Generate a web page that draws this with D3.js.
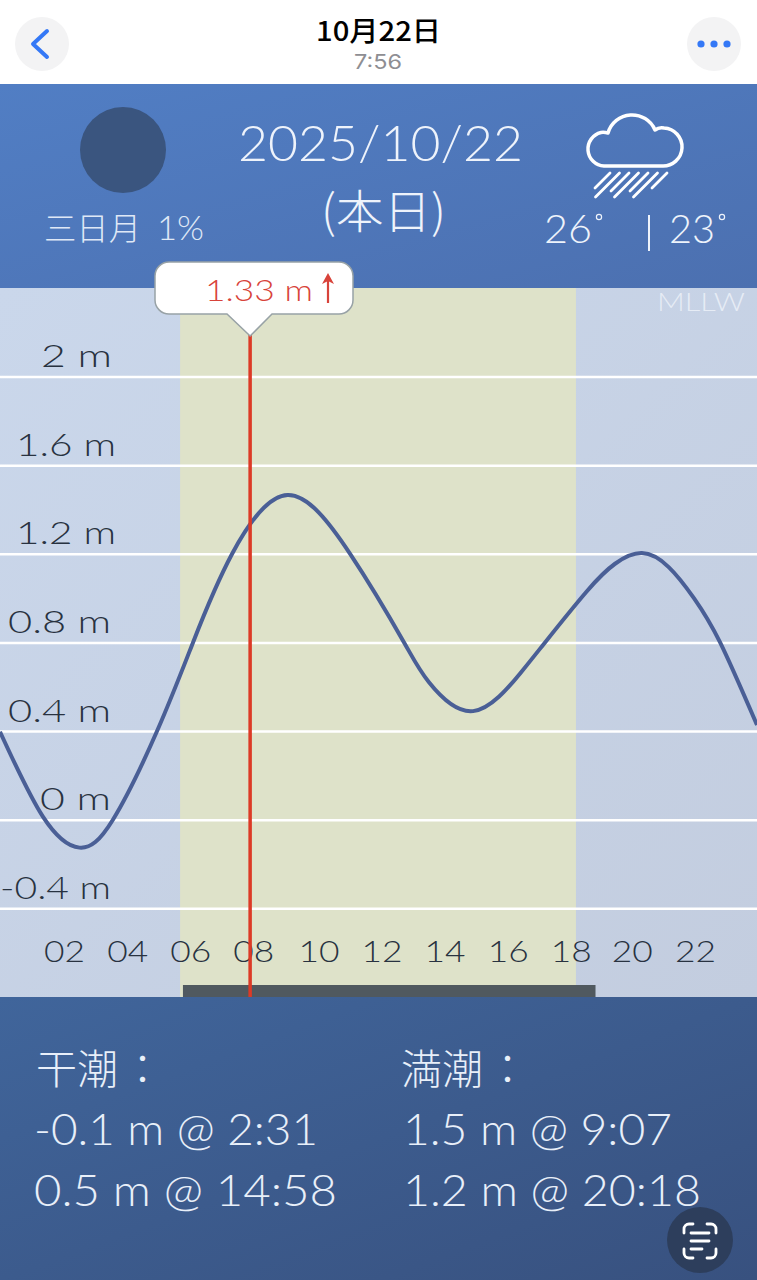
<!DOCTYPE html>
<html lang="ja"><head><meta charset="utf-8">
<script src="https://cdn.jsdelivr.net/npm/d3@7"></script>
<style>
html,body{margin:0;padding:0;background:#fff;overflow:hidden}
svg{display:block}
text{font-family:Lato,"Noto Sans CJK JP",sans-serif;font-weight:300}
.cjk{font-family:"Noto Sans CJK JP",sans-serif;font-weight:300}
</style></head><body>
<script>
// ---- data ----
const hourTicks   = [2,4,6,8,10,12,14,16,18,20,22];
const heightTicks = [2,1.6,1.2,0.8,0.4,0,-0.4];
const tideHours   = [0,1.36,2.52,3.58,4.98,6.12,7.36,9.12,11.1,12.81,13.6,15.0,16.49,17.28,18.6,19.5,20.35,21.2,22.0,22.83,24];
const tideHeights = [.397,.014,-.126,0,.40,.80,1.2,1.465,1.2,.80,.62,.49,.66,.80,1.03,1.155,1.203,1.14,1.0,.80,.427];
const daylight    = [5.71,18.26];
const barSpan     = [5.8,18.88];
const nowHour     = 7.93;
const nowLabel    = "1.33 m";
const lowTitle    = "干潮";
const highTitle   = "満潮";
const lows        = ["-0.1 m @ 2:31","0.5 m @ 14:58"];
const highs       = ["1.5 m @ 9:07","1.2 m @ 20:18"];

const W=757,H=1280;
const svg=d3.select("body").append("svg").attr("width",W).attr("height",H);
const defs=svg.append("defs");
function grad(id,a,b){const g=defs.append("linearGradient").attr("id",id).attr("x1",0).attr("y1",0).attr("x2",1).attr("y2",1);
  g.append("stop").attr("offset",0).attr("stop-color",a);g.append("stop").attr("offset",1).attr("stop-color",b);}
grad("gTop","#517ec4","#4c70b0");grad("gChart","#cad7eb","#c3cddf");grad("gBot","#40659b","#38517f");

const x=d3.scaleLinear().domain([0,24]).range([0,W]);
const y=d3.scaleLinear().domain([0,2]).range([819.7,376.5]);

function put(s,x0,x1,base,size,fill,cls){
  const t=svg.append("text").attr("x",x0).attr("y",base).attr("font-size",size).attr("fill",fill).text(s);
  if(cls)t.attr("class",cls);
  t.attr("textLength",x1-x0).attr("lengthAdjust","spacingAndGlyphs");return t;}

// bands
svg.append("rect").attr("x",0).attr("y",84).attr("width",W).attr("height",204).attr("fill","url(#gTop)");
svg.append("rect").attr("x",0).attr("y",288).attr("width",W).attr("height",709).attr("fill","url(#gChart)");
svg.append("rect").attr("x",0).attr("y",997).attr("width",W).attr("height",283).attr("fill","url(#gBot)");
svg.append("rect").attr("x",x(daylight[0])).attr("y",288).attr("width",x(daylight[1])-x(daylight[0])).attr("height",709).attr("fill","#dee2c9");

// y axis: gridlines + labels
const yBox=new Map([[2,[41,112]],[1.6,[16,116]],[1.2,[16,116]],[0.8,[8,111]],[0.4,[8,111]],[0,[40,111]],[-0.4,[0,111]]]);
const gy=svg.append("g").call(d3.axisRight(y).tickValues(heightTicks).tickSize(W).tickFormat(d=>d+" m"));
gy.attr("font-family",null);
gy.select(".domain").remove();
gy.selectAll("line").attr("stroke","#fff").attr("stroke-width",2.5);
gy.selectAll("text").attr("font-size",32).attr("fill","#283240").attr("text-anchor","start")
  .attr("dy",null).attr("y",-10)
  .attr("x",d=>yBox.get(d)[0]).attr("textLength",d=>yBox.get(d)[1]-yBox.get(d)[0]).attr("lengthAdjust","spacingAndGlyphs");

// x axis labels
const gx=svg.append("g").attr("transform","translate(1,962)").call(d3.axisBottom(x).tickValues(hourTicks).tickSize(0).tickFormat(d=>String(d).padStart(2,"0")));
gx.select(".domain").remove();
gx.attr("font-family",null);
gx.selectAll("text").attr("font-size",29).attr("fill","#283240").attr("y",0).attr("dy",null)
  .attr("dx",d=>(d>=10&&d<20)?2:0)
  .attr("textLength",41).attr("lengthAdjust","spacingAndGlyphs");

// tide curve
svg.append("path").attr("fill","none").attr("stroke","#4a5f96").attr("stroke-width",4)
  .attr("d",d3.line().x(d=>x(d[0])).y(d=>y(d[1])).curve(d3.curveNatural)(d3.zip(tideHours,tideHeights)));

// bar + now line
svg.append("rect").attr("x",x(barSpan[0])).attr("y",985).attr("width",x(barSpan[1])-x(barSpan[0])).attr("height",12).attr("fill","#50595f");
svg.append("line").attr("x1",x(nowHour)).attr("x2",x(nowHour)).attr("y1",335).attr("y2",997).attr("stroke","#dc3a26").attr("stroke-width",3.5);

// tooltip
const nx=x(nowHour);
svg.append("path").attr("fill","#fff").attr("stroke","#98a2a6").attr("stroke-width",1.5)
 .attr("d",`M169 262H339A14 14 0 0 1 353 276V300A14 14 0 0 1 339 314H272L${nx} 336L227 314H169A14 14 0 0 1 155 300V276A14 14 0 0 1 169 262Z`);
put(nowLabel,205,313,301,29,"#d8433a");
svg.append("path").attr("d","M328 303V278").attr("stroke","#d8433a").attr("stroke-width",2.2);
svg.append("path").attr("d","M322 284L328 273L334 284L328 281Z").attr("fill","#d8433a");
put("MLLW",657,745,311,25,"#e6ecf5");

// header
svg.append("circle").attr("cx",42).attr("cy",44).attr("r",27).attr("fill","#f3f3f4");
svg.append("circle").attr("cx",714).attr("cy",44).attr("r",27).attr("fill","#f3f3f4");
svg.append("path").attr("d","M47 31L33 44L47 57").attr("fill","none").attr("stroke","#3478f6").attr("stroke-width",4).attr("stroke-linecap","round").attr("stroke-linejoin","round");
[701,714,727].forEach(c=>svg.append("circle").attr("cx",c).attr("cy",44).attr("r",3.6).attr("fill","#3478f6"));
put("10月22日",316,441,41,27,"#000").attr("style","font-family:'Noto Sans CJK JP';font-weight:500");
put("7:56",354,402,69,20,"#8e8e93").attr("style","font-family:Inter;font-weight:400");

// top band content
svg.append("circle").attr("cx",123).attr("cy",150).attr("r",43).attr("fill","#3a557f");
put("2025/10/22",238,523,161,50,"#eef3fb");
put("(本日)",321,446,228,46,"#eef3fb","cjk");
put("三日月",44,141,240,32,"#dfe8f6","cjk");
put("1%",157,204,240,34,"#dfe8f6");
const tempFill="#eef3fb";
put("26",544,592,243,39,tempFill);
put("23",669,715,243,39,tempFill);
[599,722].forEach(c=>svg.append("circle").attr("cx",c).attr("cy",217).attr("r",2.6).attr("fill","none").attr("stroke",tempFill).attr("stroke-width",1.2));
svg.append("line").attr("x1",649).attr("x2",649).attr("y1",215).attr("y2",251).attr("stroke",tempFill).attr("stroke-width",2);
// weather icon
svg.append("path").attr("fill","none").attr("stroke","#fff").attr("stroke-width",3.5).attr("stroke-linejoin","round").attr("transform","translate(-2,0)")
  .attr("d","M606 166A17 17 0 0 1 603 132.5Q606 132 610 133A25 25 0 0 1 657 130Q661 127 666 128A19 19 0 0 1 664 166Z");
[15,24,18,24,18,24,15].forEach((len,i)=>{const a=610+9.5*i;
  svg.append("line").attr("x1",a).attr("y1",173).attr("x2",a-len).attr("y2",173+len).attr("stroke","#fff").attr("stroke-width",2.8).attr("stroke-linecap","round");});

// bottom band content
const tc="#e8eff9";
put(lowTitle,36,118,1084,41,tc,"cjk");
put(highTitle,401,483,1084,41,tc,"cjk");
[122,487].forEach(px=>svg.append("text").attr("class","cjk").attr("x",px).attr("y",1084).attr("font-size",41).attr("fill",tc).text("："));
put(lows[0],34,318,1145,44,tc);
put(lows[1],34,337,1206,44,tc);
put(highs[0],403,672,1145,44,tc);
put(highs[1],403,701,1206,44,tc);

// scan button
svg.append("circle").attr("cx",700).attr("cy",1240).attr("r",33).attr("fill","#2d3e5c");
svg.append("path").attr("fill","none").attr("stroke","#fff").attr("stroke-width",2.8).attr("stroke-linecap","round")
  .attr("d","M684 1233V1229A5 5 0 0 1 689 1224H693M707 1224H711A5 5 0 0 1 716 1229V1233M716 1249V1253A5 5 0 0 1 711 1258H707M693 1258H689A5 5 0 0 1 684 1253V1249M691 1233H709M691 1241H709M691 1249H702");
</script></body></html>
